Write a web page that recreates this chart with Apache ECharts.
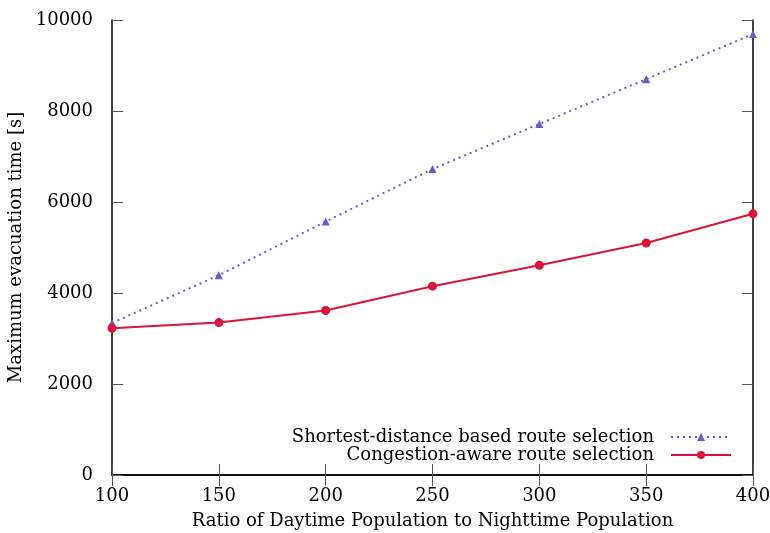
<!DOCTYPE html>
<html>
<head>
<meta charset="utf-8">
<script src="https://cdn.jsdelivr.net/npm/echarts@6/dist/echarts.min.js"></script>
<style>
  html, body { margin: 0; padding: 0; background: #fff; }
  #main { width: 770px; height: 533px; }
</style>
</head>
<body>
<div id="main"></div>
<script>
var ratios = [100, 150, 200, 250, 300, 350, 400];
var shortestTimes = [3340, 4390, 5570, 6725, 7715, 8700, 9690];
var congestionTimes = [3225, 3350, 3615, 4150, 4610, 5100, 5740];
var seriesNames = ['Shortest-distance based route selection', 'Congestion-aware route selection'];

var myChart = echarts.init(document.getElementById('main'));
var fontFamily = '"DejaVu Serif", serif';
var fontSize = 18;

function pairs(xs, ys){
	return xs.map(function(x, i){ return [x, ys[i]]; });
}

var tickStyle = { color: '#555', width: 1 };

var option = {
	backgroundColor: '#fff',
	animation: false,
	textStyle: { fontFamily: fontFamily },
	grid: { left: 112, right: 17, top: 20, bottom: 58, outerBoundsMode: 'none', containLabel: false },
	legend: {
		data: seriesNames,
		orient: 'vertical',
		right: 38,
		bottom: 69,
		align: 'right',
		itemWidth: 60,
		itemHeight: 10,
		itemGap: 0,
		padding: 0,
		textStyle: { fontFamily: fontFamily, fontSize: fontSize, color: '#000', lineHeight: 18, padding: [0, 12, 0, 0] }
	},
	xAxis: [{
		type: 'value',
		min: 100, max: 400, interval: 50,
		name: 'Ratio of Daytime Population to Nighttime Population',
		nameLocation: 'middle',
		nameGap: 37,
		nameTextStyle: { fontFamily: fontFamily, fontSize: fontSize, color: '#000' },
		axisLine: { lineStyle: { color: '#000', width: 1.5 } },
		axisTick: { inside: true, length: 11, lineStyle: tickStyle },
		axisLabel: { fontFamily: fontFamily, fontSize: fontSize, color: '#000', margin: 12 },
		splitLine: { show: false }
	}, {
		type: 'value',
		position: 'top',
		min: 100, max: 400, interval: 50,
		axisLine: { lineStyle: { color: '#000', width: 1.5 } },
		axisTick: { inside: true, length: 11, lineStyle: tickStyle },
		axisLabel: { show: false },
		splitLine: { show: false }
	}],
	yAxis: [{
		type: 'value',
		min: 0, max: 10000, interval: 2000,
		name: 'Maximum evacuation time [s]',
		nameLocation: 'middle',
		nameGap: 81,
		nameTextStyle: { fontFamily: fontFamily, fontSize: fontSize, color: '#000' },
		axisLine: { show: true, lineStyle: { color: '#000', width: 1.5 } },
		axisTick: { show: true, inside: true, length: 11, lineStyle: tickStyle },
		axisLabel: { fontFamily: fontFamily, fontSize: fontSize, color: '#000', margin: 19,
			formatter: function(v){ return String(v); } },
		splitLine: { show: false }
	}, {
		type: 'value',
		position: 'right',
		min: 0, max: 10000, interval: 2000,
		axisLine: { show: true, lineStyle: { color: '#000', width: 1.5 } },
		axisTick: { show: true, inside: true, length: 11, lineStyle: tickStyle },
		axisLabel: { show: false },
		splitLine: { show: false }
	}],
	series: [{
		name: seriesNames[0],
		type: 'line',
		data: pairs(ratios, shortestTimes),
		symbol: 'triangle',
		symbolSize: 8,
		showAllSymbol: true,
		itemStyle: { color: '#6a5acd' },
		lineStyle: { color: '#6a5acd', width: 2, type: [2, 4] }
	}, {
		name: seriesNames[1],
		type: 'line',
		data: pairs(ratios, congestionTimes),
		symbol: 'circle',
		symbolSize: 9,
		showAllSymbol: true,
		itemStyle: { color: '#dc143c' },
		lineStyle: { color: '#dc143c', width: 2 }
	}]
};
myChart.setOption(option);
</script>
</body>
</html>
